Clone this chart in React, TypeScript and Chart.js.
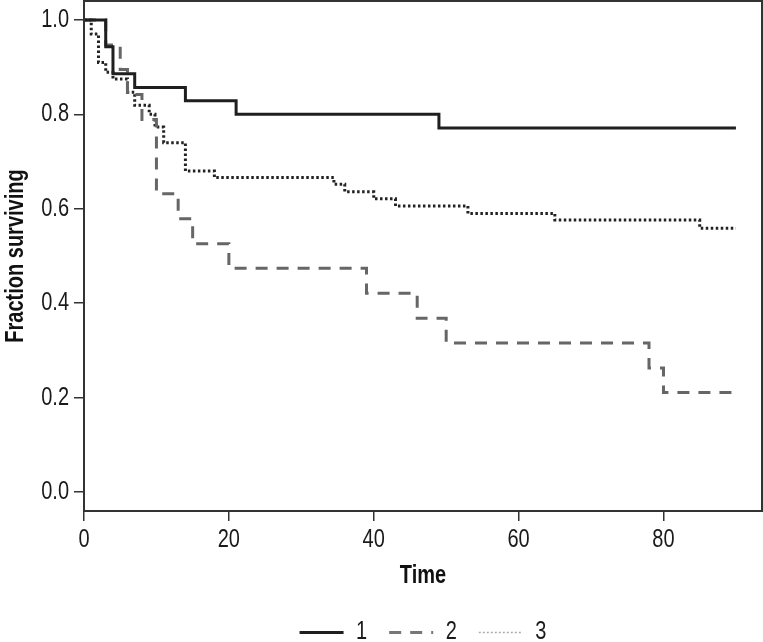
import React, { useEffect, useRef } from 'react';
import { Chart, registerables } from 'chart.js';

Chart.register(...registerables);

// Kaplan–Meier style curves: event times and survival fraction after each time
const times1 = [0, 3, 4, 7, 14, 21, 49, 90];
const surv1 = [1, 0.943, 0.886, 0.857, 0.829, 0.8, 0.771, 0.771];

const times2 = [0, 3, 5, 6, 8, 10, 13, 15, 20, 39, 46, 50, 78, 80, 89.5];
const surv2 = [1, 0.947, 0.895, 0.842, 0.789, 0.632, 0.579, 0.526, 0.474, 0.421, 0.368, 0.316, 0.263, 0.211, 0.211];

const times3 = [0, 1, 2, 3, 4, 6, 7, 9, 9.8, 11, 14, 18, 34.5, 36, 40, 43, 53, 65, 85, 90];
const surv3 = [1, 0.97, 0.91, 0.889, 0.875, 0.847, 0.819, 0.8, 0.773, 0.74, 0.68, 0.666, 0.652, 0.636, 0.621, 0.606, 0.59, 0.576, 0.559, 0.559];

const seriesLabels = ['1', '2', '3'];
const xTicks = [0, 20, 40, 60, 80];
const yTicks = [0, 0.2, 0.4, 0.6, 0.8, 1.0];

const FONT = '"Liberation Sans", Arial, sans-serif';
const CONDENSE = 0.8;

const toPoints = (t: number[], s: number[]) => t.map((x, i) => ({ x, y: s[i] }));

export default function App() {
  const ref = useRef<HTMLCanvasElement>(null);

  useEffect(() => {
    const canvas = ref.current;
    if (!canvas) return;
    const ctx2d: any = canvas.getContext('2d');
    // Render text condensed (narrow-face look) with the canvas maxWidth argument
    const origFill = ctx2d.fillText.bind(ctx2d);
    const origMeasure = ctx2d.measureText.bind(ctx2d);
    ctx2d.measureText = (text: string) => {
      const m = origMeasure(text);
      return {
        width: m.width * CONDENSE,
        actualBoundingBoxAscent: m.actualBoundingBoxAscent,
        actualBoundingBoxDescent: m.actualBoundingBoxDescent,
        actualBoundingBoxLeft: m.actualBoundingBoxLeft * CONDENSE,
        actualBoundingBoxRight: m.actualBoundingBoxRight * CONDENSE,
        fontBoundingBoxAscent: m.fontBoundingBoxAscent,
        fontBoundingBoxDescent: m.fontBoundingBoxDescent,
      };
    };
    ctx2d.fillText = (text: string, x: number, y: number, maxWidth?: number) => {
      const w = Math.max(1, origMeasure(text).width * CONDENSE);
      origFill(text, x, y, maxWidth !== undefined ? Math.min(maxWidth, w) : w);
    };

    const framePlugin = {
      id: 'frame',
      afterDatasetsDraw(chart: any) {
        const { ctx, chartArea: a } = chart;
        ctx.save();
        ctx.strokeStyle = '#333';
        ctx.lineWidth = 2;
        ctx.strokeRect(a.left, a.top, a.right - a.left, a.bottom - a.top);
        ctx.restore();
      },
    };

    const chart = new Chart(canvas, {
      type: 'line',
      data: {
        datasets: [
          {
            label: seriesLabels[0],
            data: toPoints(times1, surv1),
            borderColor: '#1f1f1f',
            backgroundColor: '#1f1f1f',
            borderWidth: 3,
            stepped: 'before',
            pointRadius: 0,
            fill: false,
          },
          {
            label: seriesLabels[1],
            data: toPoints(times2, surv2),
            borderColor: '#666666',
            backgroundColor: '#666666',
            borderWidth: 3,
            borderDash: [12, 9],
            stepped: 'before',
            pointRadius: 0,
            fill: false,
          },
          {
            label: seriesLabels[2],
            data: toPoints(times3, surv3),
            borderColor: '#222222',
            backgroundColor: '#222222',
            borderWidth: 3,
            borderDash: [2.5, 2.5],
            stepped: 'before',
            pointRadius: 0,
            fill: false,
          },
        ],
      },
      options: {
        responsive: false,
        animation: false,
        devicePixelRatio: 1,
        layout: { padding: { left: 0, right: 1, top: 1, bottom: 0 } },
        plugins: {
          tooltip: { enabled: false },
          legend: {
            position: 'bottom',
            fullSize: false,
            labels: {
              usePointStyle: true,
              pointStyle: 'line',
              pointStyleWidth: 44,
              padding: 22,
              color: '#1a1a1a',
              font: { family: FONT, size: 25 },
              generateLabels: (c: any) => {
                const items = Chart.defaults.plugins.legend.labels.generateLabels(c);
                items.forEach((it: any, i: number) => {
                  it.pointStyle = 'line';
                  it.fontColor = '#1a1a1a';
                  if (i === 0) { it.lineWidth = 3; it.strokeStyle = '#1f1f1f'; it.lineDash = []; }
                  if (i === 1) { it.lineWidth = 3; it.strokeStyle = '#777'; it.lineDash = [12, 9]; }
                  if (i === 2) { it.lineWidth = 1.5; it.strokeStyle = '#aaa'; it.lineDash = [2, 2]; }
                });
                return items;
              },
            },
          },
        },
        scales: {
          x: {
            type: 'linear',
            min: 0,
            max: 93.6,
            afterBuildTicks: (s: any) => { s.ticks = xTicks.map((v) => ({ value: v })); },
            afterFit: (s: any) => { s.height = 87; s.paddingLeft = 0; s.paddingRight = 0; },
            border: { display: false },
            grid: { display: true, drawOnChartArea: false, drawTicks: true, tickLength: 10, color: '#333', lineWidth: 1.5 },
            ticks: {
              padding: 4,
              color: '#1a1a1a',
              font: { family: FONT, size: 25 },
              maxRotation: 0,
              autoSkip: false,
              callback: (v: any) => String(v),
            },
            title: {
              display: true,
              text: 'Time',
              color: '#111',
              font: { family: FONT, size: 25, weight: 'bold' },
              padding: { top: 4, bottom: 7 },
            },
          },
          y: {
            type: 'linear',
            min: -0.04,
            max: 1.04,
            afterBuildTicks: (s: any) => { s.ticks = yTicks.map((v) => ({ value: v })); },
            afterFit: (s: any) => { s.width = 84; s.paddingTop = 0; s.paddingBottom = 0; },
            border: { display: false },
            grid: { display: true, drawOnChartArea: false, drawTicks: true, tickLength: 10, color: '#333', lineWidth: 1.5 },
            ticks: {
              padding: 5,
              color: '#1a1a1a',
              font: { family: FONT, size: 25 },
              autoSkip: false,
              callback: (v: any) => Number(v).toFixed(1),
            },
            title: {
              display: true,
              text: 'Fraction surviving',
              color: '#111',
              font: { family: FONT, size: 25, weight: 'bold' },
              padding: { top: 1, bottom: 0 },
            },
          },
        },
      },
      plugins: [framePlugin],
    } as any);

    return () => chart.destroy();
  }, []);

  return (
    <div style={{ position: 'absolute', left: 0, top: 0, width: 763, height: 642, overflow: 'hidden', background: '#fff' }}>
      <canvas ref={ref} width={763} height={655} style={{ display: 'block' }} />
    </div>
  );
}
